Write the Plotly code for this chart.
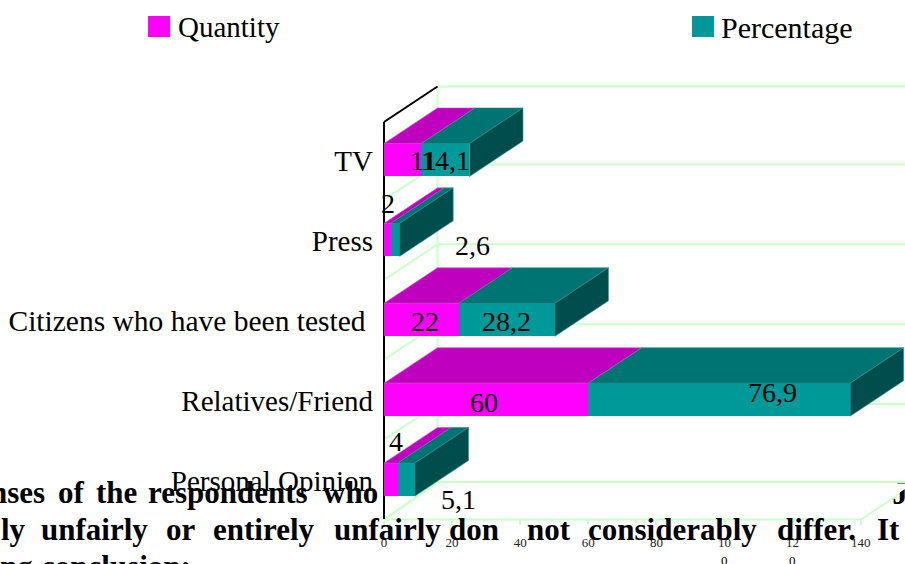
import plotly.graph_objects as go

# ---- data ----
categories = ["Personal Opinion", "Relatives/Friend",
              "<span style='font-size:29.5px'>Citizens who have been tested\u00a0</span>", "Press", "TV"]
quantity = [4, 60, 22, 2, 11]
percentage = [5.1, 76.9, 28.2, 2.6, 14.1]
x_ticks = [0, 20, 40, 60, 80, 100, 120, 140]
x_tick_text = ["0", "20", "40", "60", "80", "10", "12", "140"]

# ---- pixel offsets of the data labels from the centre of their segment (dx, dy up) ----
q_label_shift = [(5, 38), (-2, -3), (4, -2), (1, 36), (21, -1)]
p_label_shift = [(52, -20), (53, 7), (0, -2), (77, -6), (0, -1)]

# ---- styles ----
W, H = 905, 564
FONT = "Liberation Serif"
MAGENTA, MAGENTA_TOP = "#FF00FF", "#BF00BF"
TEAL, TEAL_TOP, TEAL_SIDE = "#009999", "#007373", "#004D4D"
GRID = "#CCFFCC"
PX_X = 3.405          # pixels per x unit
PX_Y = 79.9           # pixels per category
X0, Y0 = 384, 519.5   # pixel of value 0 / of the floor
L, R_, T, B = 380, 905, 80, 525
DX = 53.5 / PX_X      # 3-D depth in data units
DY = 35.5 / PX_Y
BAR_W = 33 / PX_Y
x_range = [(L - X0) / PX_X, (R_ - X0) / PX_X]
y_range = [-0.5 - (B - Y0) / PX_Y, -0.5 + (Y0 - T) / PX_Y]


def px(x):
    return (x - L) / (R_ - L)


def py(y):
    return (B - y) / (B - T)


def dx_from_px(x):
    return (x - X0) / PX_X


def dy_from_px(y):
    return -0.5 + (Y0 - y) / PX_Y


fig = go.Figure()
fig.add_bar(y=list(range(5)), x=quantity, orientation="h", width=BAR_W,
            marker=dict(color=MAGENTA, line_width=0), hoverinfo="skip", name="Quantity")
fig.add_bar(y=list(range(5)), x=percentage, orientation="h", width=BAR_W,
            marker=dict(color=TEAL, line_width=0), hoverinfo="skip", name="Percentage")


def face(xs, ys, color, edge):
    fig.add_scatter(x=xs + xs[:1], y=ys + ys[:1], mode="lines", fill="toself", fillcolor=color,
                    line=dict(color=edge, width=0.6), hoverinfo="skip", showlegend=False)


for k, (q, p) in enumerate(zip(quantity, percentage)):
    t = k + BAR_W / 2
    b = k - BAR_W / 2
    end = q + p
    face([0, q, q + DX, DX], [t, t, t + DY, t + DY], MAGENTA_TOP, "#D060D0")
    face([q, end, end + DX, q + DX], [t, t, t + DY, t + DY], TEAL_TOP, "#2F9090")
    face([end, end + DX, end + DX, end], [t, t + DY, b + DY, b], TEAL_SIDE, "#2F9090")

# letter of the page text behind the chart: only its foot shows below the floor's edge
FX = dx_from_px(861)
fig.add_scatter(x=[dx_from_px(900)], y=[dy_from_px(496)], mode="text", text=["<b>J</b>"],
                textfont=dict(family=FONT, size=31, color="black"), hoverinfo="skip", showlegend=False)
fig.add_scatter(x=[dx_from_px(885), dx_from_px(905), dx_from_px(905), dx_from_px(885)],
                y=[dy_from_px(483.5), dy_from_px(483.5), dy_from_px(489), dy_from_px(502.3)],
                mode="lines", fill="toself", fillcolor="white", line_width=0, hoverinfo="skip", showlegend=False)

shapes = []
floor = -0.5
top = dy_from_px(122)
back_floor = dy_from_px(482)
back_top = dy_from_px(86.5)
xmax = x_range[1]


def line(x0, y0, x1, y1, color=GRID, width=2):
    shapes.append(dict(type="line", xref="x", yref="y", x0=x0, y0=y0, x1=x1, y1=y1,
                       line=dict(color=color, width=width), layer="below"))


for i in range(1, 5):
    yy = floor + i
    line(DX, yy + DY, xmax, yy + DY)      # back wall
    line(0, yy, DX, yy + DY)              # side wall
line(DX, back_floor, xmax, back_floor)
line(DX, back_top, xmax, back_top)
line(DX, back_floor, DX, back_top)        # wall corner
line(0, floor, DX, back_floor)
line(0, floor - 0.015, DX, back_floor - 0.015, width=1)
line(0, floor, FX, floor)                 # front floor edge
line(FX, floor, xmax, floor + (xmax - FX) / DX * DY)
line(0, floor, 0, top, color="black", width=2)
line(0, top, DX, back_top, color="black", width=2)

# legend drawn in page coordinates
for x0, color in ((148, MAGENTA), (692, TEAL)):
    shapes.append(dict(type="rect", xref="paper", yref="paper", x0=px(x0), x1=px(x0 + 22),
                       y0=py(37), y1=py(16), fillcolor=color, line_width=0))

ann = []


def page_text(text, x, y, size, bold=False, anchor="left"):
    ann.append(dict(xref="paper", yref="paper", x=px(x), y=py(y), text=f"<b>{text}</b>" if bold else text,
                    showarrow=False, xanchor=anchor, yanchor="middle", borderpad=0,
                    font=dict(family=FONT, size=size, color="black")))


page_text("Quantity", 177, 27, 29)
page_text("Percentage", 720, 27, 30)

TXT = 31
for word, x, y in [("nses", -11, 492), ("of", 57, 492), ("the", 95, 492), ("respondents", 147, 492), ("who", 322, 492),
                   ("ly", 0, 529), ("unfairly", 40, 529), ("or", 165, 529), ("entirely", 212, 529),
                   ("unfairly", 333, 529), ("don", 448, 529), ("not", 526, 529), ("considerably", 587, 529),
                   ("differ.", 776, 529), ("It", 876, 529), ("ng", -1, 566), ("conclusion:", 40, 566)]:
    page_text(word, x, y, TXT, bold=True)

for tick in (100, 120):
    page_text("0", X0 + tick * PX_X, 560, 13, anchor="center")


def fmt(v):
    return str(v).replace(".", ",")


for k, (q, p) in enumerate(zip(quantity, percentage)):
    for val, centre, (sx, sy) in ((q, q / 2, q_label_shift[k]), (p, q + p / 2, p_label_shift[k])):
        ann.append(dict(x=centre, y=k, xref="x", yref="y", text=fmt(val), showarrow=False,
                        xshift=sx, yshift=sy, font=dict(family=FONT, size=28, color="black")))

fig.update_layout(
    width=W, height=H, barmode="stack", bargap=0, showlegend=False,
    paper_bgcolor="white", plot_bgcolor="rgba(0,0,0,0)",
    margin=dict(l=L, r=W - R_, t=T, b=H - B, autoexpand=False),
    shapes=shapes, annotations=ann,
    xaxis=dict(range=x_range, tickmode="array", tickvals=x_ticks, ticktext=x_tick_text, showgrid=False,
               zeroline=False, showline=False, ticks="inside", ticklen=6, tickwidth=1.5, tickcolor=GRID,
               tickangle=0, ticklabelstandoff=8, tickfont=dict(family=FONT, size=13, color="#222"), automargin=False),
    yaxis=dict(range=y_range, tickmode="array", tickvals=list(range(5)), ticktext=categories, showgrid=False,
               zeroline=False, showline=False, ticks="", ticklabelstandoff=6, ticklabelshift=1,
               tickfont=dict(family=FONT, size=29, color="black"), automargin=False),
)
fig.write_html("out.html", post_script="document.body.style.margin='0';", config=dict(displayModeBar=False))
